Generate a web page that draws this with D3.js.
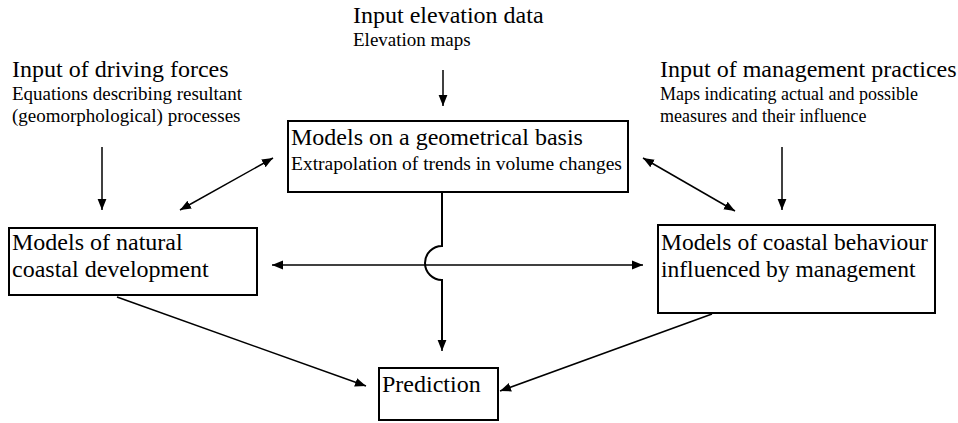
<!DOCTYPE html>
<html>
<head>
<meta charset="utf-8">
<script src="https://cdn.jsdelivr.net/npm/d3@7"></script>
<style>
  html, body { margin: 0; padding: 0; background: #fff; }
  svg { display: block; }
</style>
</head>
<body>
<svg id="chart" width="958" height="423"></svg>
<script>
"use strict";

// text content of the diagram
var inputTitles = ["Input of driving forces", "Input elevation data", "Input of management practices"];
var inputNotes = [
  ["Equations describing resultant", "(geomorphological) processes"],
  ["Elevation maps"],
  ["Maps indicating actual and possible", "measures and their influence"]
];
var boxTitles = ["Models on a geometrical basis", "Models of natural", "Models of coastal behaviour", "Prediction"];
var boxNotes = [
  ["Extrapolation of trends in volume changes"],
  ["coastal development"],
  ["influenced by management"],
  []
];
var boxIds = ["geom", "natural", "managed", "predict"];

// layout (pixels) kept apart from the content
var layout = {
  inputs: [{x: 12, y: 77, note: 19}, {x: 353, y: 23, note: 19}, {x: 660, y: 77, note: 18}],
  boxes: {
    geom:    {x: 288, y: 121, w: 340, h: 71, dy: 24, dy2: 49, size: 24, note: 19.5},
    natural: {x: 9,   y: 228, w: 248, h: 67, dy: 22, dy2: 49, size: 24, note: 24},
    managed: {x: 658, y: 225, w: 277, h: 88, dy: 25, dy2: 52, size: 23.5, note: 23.5},
    predict: {x: 379, y: 368, w: 119, h: 52, dy: 24, size: 24}
  }
};

var FONT = "Liberation Serif";
var svg = d3.select("#chart");

svg.append("defs").append("marker")
    .attr("id", "head")
    .attr("viewBox", "0 0 10 10")
    .attr("refX", 10).attr("refY", 5)
    .attr("markerWidth", 11).attr("markerHeight", 11)
    .attr("markerUnits", "userSpaceOnUse")
    .attr("orient", "auto-start-reverse")
  .append("path")
    .attr("d", "M0,1 L10,5 L0,9 Z")
    .attr("fill", "#000");

function label(x, y, size, t) {
  return svg.append("text")
    .attr("x", x).attr("y", y)
    .attr("font-family", FONT)
    .attr("font-size", size)
    .attr("fill", "#000")
    .text(t);
}

// input labels
inputTitles.forEach(function(t, i) {
  var p = layout.inputs[i];
  label(p.x, p.y, 24, t);
  inputNotes[i].forEach(function(n, j) {
    label(p.x, p.y + 23 + j * 22, p.note, n);
  });
});

// boxes
boxIds.forEach(function(id, i) {
  var b = layout.boxes[id];
  svg.append("rect")
    .attr("x", b.x).attr("y", b.y).attr("width", b.w).attr("height", b.h)
    .attr("fill", "none").attr("stroke", "#000").attr("stroke-width", 2);
  label(b.x + 3, b.y + b.dy, b.size, boxTitles[i]);
  boxNotes[i].forEach(function(n) {
    label(b.x + 3, b.y + b.dy2, b.note, n);
  });
});

var line = d3.line();

function arrow(pts, both) {
  svg.append("path")
    .attr("d", line(pts))
    .attr("fill", "none").attr("stroke", "#000").attr("stroke-width", 1.5)
    .attr("marker-end", "url(#head)")
    .attr("marker-start", both ? "url(#head)" : null);
}

var B = layout.boxes;
// input arrows
arrow([[102, 147], [102, 210]]);
arrow([[443, 70], [443, 106]]);
arrow([[782, 147], [782, 210]]);
// double arrows between model boxes
arrow([[180, 210], [273, 158]], true);
arrow([[643, 158], [735, 211]], true);
arrow([[272, 265], [643, 265]], true);
// prediction arrows
arrow([[117, 297], [366, 386]]);
arrow([[712, 314], [500, 391]]);

// vertical link from geometrical box with a bridge over the horizontal arrow
var cx = 442, cy = 263, r = 17;
var path = d3.path();
path.moveTo(cx, B.geom.y + B.geom.h);
path.lineTo(cx, cy - r);
path.arc(cx, cy, r, -Math.PI / 2, Math.PI / 2, true);
path.lineTo(cx, 340);
svg.append("path").attr("d", path.toString())
  .attr("fill", "none").attr("stroke", "#000").attr("stroke-width", 2);
arrow([[cx, 338], [cx, 351]]);
</script>
</body>
</html>
